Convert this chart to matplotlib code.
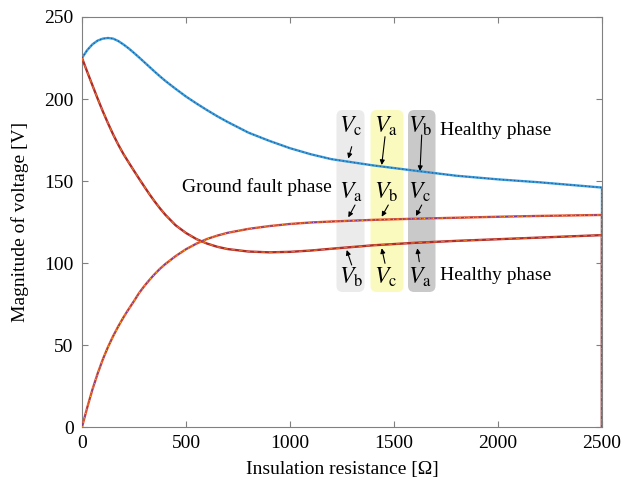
import matplotlib
matplotlib.use("Agg")
import matplotlib.pyplot as plt
from matplotlib.patches import FancyBboxPatch

plt.rcParams['font.family'] = ['Liberation Serif', 'DejaVu Serif']
plt.rcParams['mathtext.fontset'] = 'stix'

# insulation resistance [ohm] and phase voltage magnitudes [V]
resistance = [0, 25, 50, 75, 100, 125, 150, 175, 200, 225, 250, 275, 300, 325, 350, 375,
              400, 450, 500, 550, 600, 650, 700, 800, 900, 1000, 1100, 1200, 1400, 1600,
              1800, 2000, 2200, 2500, 2500]
v_upper = [225, 229.8, 233.3, 235.6, 236.8, 237.2, 236.8, 235.3, 233.2, 230.8, 228.1,
           225.3, 222.4, 219.5, 216.6, 213.8, 211.1, 206.2, 201.5, 197.3, 193.3, 189.5,
           186, 179.5, 174.5, 170, 166.3, 163.3, 159.5, 156.3, 153.2, 151, 149.2, 146, 0]
v_middle = [0, 11.8, 22.8, 32.5, 41.2, 48.8, 55.5, 61.5, 67, 72, 76.8, 81.8, 86, 89.8,
            93.3, 96.5, 99.3, 104.2, 108.4, 111.8, 114.6, 116.7, 118.4, 120.8, 122.5,
            123.8, 124.7, 125.3, 126.3, 127, 127.6, 128.2, 128.7, 129.3, 0]
v_lower = [225, 216.6, 208.4, 200.3, 192.5, 185.2, 178.3, 172, 166.3, 161.2, 156.2, 151.3,
           146.5, 141.8, 137.4, 133.3, 129.5, 123, 118.3, 114.6, 111.9, 109.9, 108.5, 107,
           106.5, 106.8, 107.6, 108.7, 110.8, 112.3, 113.5, 114.5, 115.5, 117, 0]

box_labels = [['c', 'a', 'b'], ['a', 'b', 'c'], ['b', 'c', 'a']]
x_ticks = [0, 500, 1000, 1500, 2000, 2500]
y_ticks = [0, 50, 100, 150, 200, 250]

fig = plt.figure(figsize=(6.23, 4.88), dpi=100)
ax = fig.add_axes([82 / 623, 1 - 427 / 488, 520 / 623, 410 / 488])


def px(x, y):
    # pixel position in the figure -> data coordinates
    return (x - 82) * 2500 / 520, (427 - y) * 250 / 410


# curves (solid line with dotted/dashed overlays, like the original)
ax.plot(resistance, v_upper, color='#3a9ad9', lw=1.7, zorder=3)
ax.plot(resistance, v_upper, color='#1d5f9e', lw=0.9, ls=(0, (1, 2)), zorder=3)
ax.plot(resistance, v_lower, color='#b02a2a', lw=1.7, zorder=4)
ax.plot(resistance, v_lower, color='#e5702a', lw=0.9, ls=(0, (3, 3)), zorder=4)
ax.plot(resistance, v_middle, color='#e2502a', lw=1.7, zorder=5)
ax.plot(resistance, v_middle, color='#7e3a9e', lw=0.9, ls=(0, (4, 3)), zorder=5)
ax.plot(resistance, v_middle, color='#f0b020', lw=0.8, ls=(0, (1, 3)), zorder=5)

# shaded phase boxes
box_cols = ['#ebebeb', '#fafabf', '#c9c9c9']
box_px = [(336.5, 364.5), (370.5, 403.5), (408, 435.5)]
for (x0, x1), col in zip(box_px, box_cols):
    bx0, by1 = px(x0, 110)
    bx1, by0 = px(x1, 292)
    ax.add_patch(FancyBboxPatch((bx0, by0), bx1 - bx0, by1 - by0,
                                boxstyle='round,pad=0,rounding_size=30',
                                mutation_aspect=(250 / 410) / (2500 / 520),
                                fc=col, ec='none', zorder=1))

# labels in the boxes
label_x = [351, 386, 420]
label_y = [126, 192, 277]
for row, ypix in enumerate(label_y):
    for col, xpix in enumerate(label_x):
        tx, ty = px(xpix, ypix)
        ax.text(tx, ty, r'$V_\mathrm{%s}$' % box_labels[row][col], fontsize=17,
                ha='center', va='center', zorder=6)

# arrows: (tail, head) in pixels
arrows = [((351.7, 146.7), (348.3, 158.5)), ((385, 136.7), (381.7, 165)),
          ((421.7, 135), (420, 171)),
          ((355, 205), (348.3, 217.3)), ((388.3, 205), (381.7, 216.7)),
          ((421.7, 205), (416, 216)),
          ((351.7, 265), (346.7, 250)), ((385, 263.3), (381.7, 248.3)),
          ((419.3, 261.7), (417.3, 248.3))]
for tail, head in arrows:
    ax.annotate('', xy=px(*head), xytext=px(*tail),
                arrowprops=dict(arrowstyle='-|>', color='black', lw=0.8,
                                mutation_scale=7, shrinkA=0, shrinkB=0), zorder=6)

ax.text(*px(440, 131), 'Healthy phase', fontsize=14, ha='left', va='center')
ax.text(*px(440, 275), 'Healthy phase', fontsize=14, ha='left', va='center')
ax.text(*px(332, 187), 'Ground fault phase', fontsize=14, ha='right', va='center')

ax.set_xlim(0, 2500)
ax.set_ylim(0, 250)
ax.set_xticks(x_ticks)
ax.set_yticks(y_ticks)
ax.tick_params(direction='in', top=True, right=True, length=4, color='#808080',
               labelsize=14, pad=6)
for s in ax.spines.values():
    s.set_color('#808080')
    s.set_linewidth(0.8)
ax.set_xlabel('Insulation resistance [Ω]', fontsize=14, labelpad=6)
ax.set_ylabel('Magnitude of voltage [V]', fontsize=14, labelpad=11)

fig.savefig('out.png', dpi=100)
